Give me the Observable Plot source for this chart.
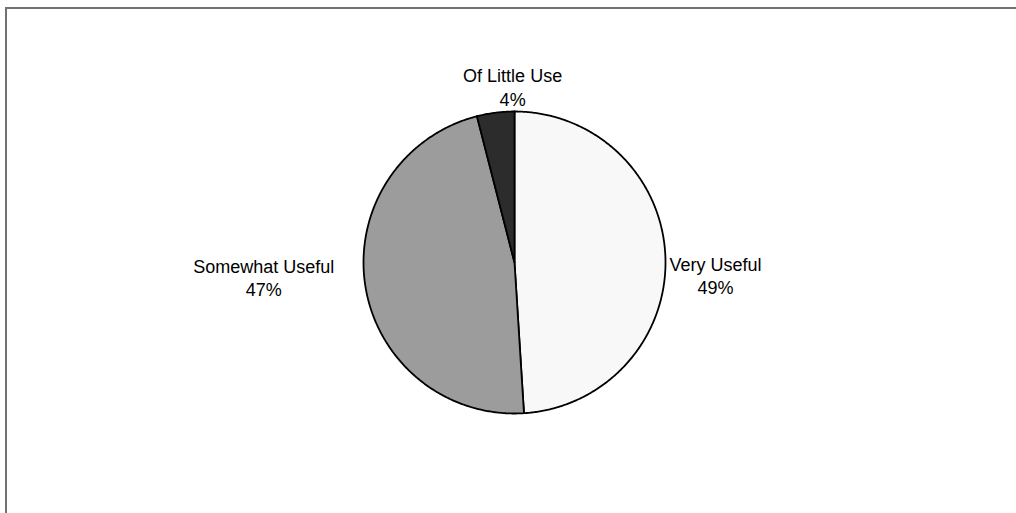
<!DOCTYPE html>
<html>
<head>
<meta charset="utf-8">
<script src="https://cdn.jsdelivr.net/npm/d3@7"></script>
<script src="https://cdn.jsdelivr.net/npm/@observablehq/plot@0.6"></script>
<style>
  html, body { margin: 0; padding: 0; background: #ffffff; overflow: hidden; }
  #wrap { position: relative; width: 1016px; height: 513px; overflow: hidden; }
  #chart { position: absolute; left: 0; top: 0; }
  #border { position: absolute; left: 5px; top: 7px; width: 1030px; height: 530px;
            border-top: 2px solid #727272; border-left: 2px solid #727272; pointer-events: none; }
</style>
</head>
<body>
<div id="wrap"><div id="chart"></div><div id="border"></div></div>
<script>
const categories = ["Very Useful", "Somewhat Useful", "Of Little Use"];
const values = [49, 47, 4];
const valueLabels = ["49%", "47%", "4%"];
const colors = ["#f8f8f8", "#9c9c9c", "#2c2c2c"];

// layout
const W = 1016, H = 513, CX = 514, CY = 262, R = 151;
const FONT_SIZE = 18, LINE_H = 24 / 18, GAP = 6;
const FONT = "Liberation Sans, Arial, Helvetica, sans-serif";
// small per-label placement nudges (px), as Excel placed them
const labelNudge = [[-2, 18], [-26, -14], [24, 3]];

const rows = categories.map((c, i) => ({cat: c, value: values[i], label: valueLabels[i]}));
const arcs = d3.pie().sort(null).value(d => d.value)(rows);

// slice outlines as closed polygons in unit coordinates
const points = [];
for (const a of arcs) {
  const cat = a.data.cat;
  points.push({cat, x: 0, y: 0});
  const n = Math.max(4, Math.ceil((a.endAngle - a.startAngle) / (Math.PI / 360)));
  for (let k = 0; k <= n; k++) {
    const t = a.startAngle + (a.endAngle - a.startAngle) * k / n;
    points.push({cat, x: Math.sin(t), y: Math.cos(t)});
  }
  points.push({cat, x: 0, y: 0});
}

// label placement (outside end)
const ctx = document.createElement("canvas").getContext("2d");
ctx.font = `${FONT_SIZE}px Liberation Sans`;
const labelRows = arcs.map((a, i) => {
  const mid = (a.startAngle + a.endAngle) / 2;
  const s = Math.sin(mid), c = Math.cos(mid);
  const text = a.data.cat + "\n" + a.data.label;
  const w = Math.max(ctx.measureText(a.data.cat).width, ctx.measureText(a.data.label).width);
  const h = FONT_SIZE * LINE_H * 2;
  const px = s * (R + GAP) + s * w / 2 + labelNudge[i][0];
  const py = c * (R + GAP) + c * h / 2 - labelNudge[i][1];
  return {x: px / R, y: py / R, text};
});

const chart = Plot.plot({
  width: W,
  height: H,
  margin: 0,
  style: {fontFamily: FONT, fontSize: FONT_SIZE + "px", background: "transparent", color: "#000"},
  x: {domain: [-1, 1], range: [CX - R, CX + R], axis: null},
  y: {domain: [-1, 1], range: [CY + R, CY - R], axis: null},
  color: {domain: categories, range: colors},
  marks: [
    Plot.line(points, {x: "x", y: "y", z: "cat", fill: "cat", stroke: "#000", strokeWidth: 1.8, strokeLinejoin: "round", curve: "linear"}),
    Plot.text(labelRows, {x: "x", y: "y", text: "text", fill: "#000", fontSize: FONT_SIZE, lineHeight: LINE_H, textAnchor: "middle"})
  ]
});
document.getElementById("chart").appendChild(chart);
</script>
</body>
</html>
